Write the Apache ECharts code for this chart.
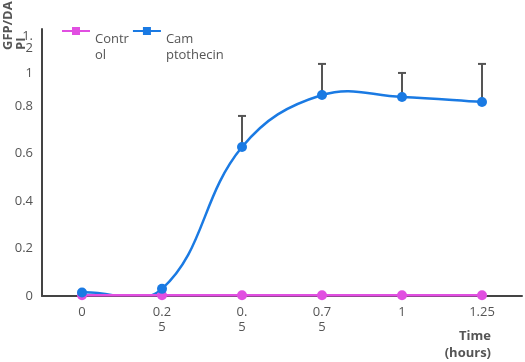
<!DOCTYPE html>
<html><head><meta charset="utf-8">
<script src="https://cdn.jsdelivr.net/npm/echarts@6/dist/echarts.min.js"></script>
<style>html,body{margin:0;padding:0;background:#fff}#c{width:525px;height:362px}</style>
</head><body><div id="c"></div>
<script>
const categories = ['0', '0.25', '0.5', '0.75', '1', '1.25'];
const xTickLabels = ['0', '0.2\n5', '0.\n5', '0.7\n5', '1', '1.25'];
const controlValues = [0.003, 0.003, 0.003, 0.003, 0.003, 0.003];
const camptoValues = [0.015, 0.03, 0.627, 0.846, 0.838, 0.817];
const camptoErrUp = [null, null, 0.131, 0.131, 0.101, 0.160];
const yTickValues = [0, 0.2, 0.4, 0.6, 0.8, 1];
const yTickLabels = ['0', '0.2', '0.4', '0.6', '0.8', '1'];
const yTopLabel = '1.\n2';
const seriesNames = ['Control', 'Camptothecin'];
const legendLabels = {'Control': 'Contr\nol', 'Camptothecin': 'Cam\nptothecin'};
const yMax = 1.124;

const FONT = 'Open Sans';
const C_CTRL = '#e14fe1';
const C_CAMP = '#1a7ae3';
const TENSION = 0.4;

function splineSeg(params, api) {
  const n = params.dataInsideLength;
  const i = params.dataIndexInside;
  if (i >= n - 1) return null;
  const pt = k => {
    k = Math.max(0, Math.min(n - 1, k));
    return api.coord([api.value(0, k), api.value(1, k)]);
  };
  const ctrl = (prev, cur, next) => {
    const d01 = Math.hypot(cur[0] - prev[0], cur[1] - prev[1]);
    const d12 = Math.hypot(next[0] - cur[0], next[1] - cur[1]);
    let s01 = d01 / (d01 + d12), s12 = d12 / (d01 + d12);
    s01 = isNaN(s01) ? 0 : s01; s12 = isNaN(s12) ? 0 : s12;
    const fa = TENSION * s01, fb = TENSION * s12;
    return {
      prev: [cur[0] - fa * (next[0] - prev[0]), cur[1] - fa * (next[1] - prev[1])],
      next: [cur[0] + fb * (next[0] - prev[0]), cur[1] + fb * (next[1] - prev[1])]
    };
  };
  const a = pt(i), b = pt(i + 1);
  const ca = ctrl(pt(i - 1), a, pt(i + 1));
  const cb = ctrl(a, b, pt(i + 2));
  return {
    type: 'bezierCurve',
    shape: {x1: a[0], y1: a[1], x2: b[0], y2: b[1], cpx1: ca.next[0], cpy1: ca.next[1], cpx2: cb.prev[0], cpy2: cb.prev[1]},
    style: {stroke: C_CAMP, lineWidth: 2.5, fill: null}
  };
}

const yLabelStyle = {color: '#555', fontSize: 13, fontFamily: FONT, lineHeight: 12};

const chart = echarts.init(document.getElementById('c'), null, {renderer: 'canvas'});
chart.setOption({
  animation: false,
  backgroundColor: '#fff',
  textStyle: {fontFamily: FONT},
  grid: {left: 42, right: 3, top: 29, bottom: 66, containLabel: false, outerBoundsMode: 'none'},
  legend: {
    data: seriesNames,
    left: 61, top: -1, padding: 0,
    itemWidth: 28, itemHeight: 10, itemGap: 3,
    formatter: n => '\n\n' + legendLabels[n],
    textStyle: {color: '#555', fontSize: 13, fontFamily: FONT, lineHeight: 16}
  },
  xAxis: {
    type: 'category', data: categories, boundaryGap: true,
    axisLine: {lineStyle: {color: '#444', width: 2}},
    axisTick: {show: false},
    axisLabel: {
      interval: 0, margin: 9, color: '#555', fontSize: 13, lineHeight: 15, fontFamily: FONT,
      formatter: (v, i) => xTickLabels[i]
    }
  },
  yAxis: [{
    type: 'value', min: 0, max: yMax, interval: 0.2,
    axisLine: {show: true, lineStyle: {color: '#444', width: 2}},
    axisTick: {show: false},
    splitLine: {show: false},
    axisLabel: Object.assign({}, yLabelStyle, {
      margin: 9, showMaxLabel: false,
      formatter: v => {
        const i = yTickValues.findIndex(t => Math.abs(t - v) < 1e-6);
        if (i === 5) return '{s|' + yTickLabels[i] + '}';
        if (i >= 0) return yTickLabels[i];
        return '';
      },
      rich: {s: Object.assign({}, yLabelStyle, {padding: [29, 0, 0, 0]})}
    })
  }, {
    type: 'value', position: 'left', min: 0, max: yMax, interval: 0.2,
    axisLine: {show: false}, axisTick: {show: false}, splitLine: {show: false},
    axisLabel: Object.assign({}, yLabelStyle, {
      margin: 9, showMaxLabel: true, showMinLabel: false,
      formatter: v => (Math.abs(v - yMax) < 1e-6 ? '{s|' + yTopLabel + '}' : ''),
      rich: {s: Object.assign({}, yLabelStyle, {padding: [26, 0, 0, 0]})}
    })
  }],
  graphic: [{
    type: 'text', x: 2, y: 50, rotation: Math.PI / 2,
    style: {text: 'GFP/DA\nPI', font: 'bold 13px "Open Sans"', fill: '#555',
      textAlign: 'left', textVerticalAlign: 'top', lineHeight: 13}
  }, {
    type: 'text', x: 491, y: 328,
    style: {text: 'Time\n(hours)', font: 'bold 13px "Open Sans"', fill: '#555',
      textAlign: 'right', textVerticalAlign: 'top', lineHeight: 17}
  }],
  series: [
    {name: 'Control', type: 'line', data: [], color: C_CTRL, symbol: 'rect',
      lineStyle: {width: 2.5, color: C_CTRL}, itemStyle: {color: C_CTRL}},
    {name: 'Camptothecin', type: 'line', data: [], color: C_CAMP, symbol: 'rect',
      lineStyle: {width: 2.5, color: C_CAMP}, itemStyle: {color: C_CAMP}},
    {
      name: 'Control', type: 'line', data: controlValues,
      color: C_CTRL, symbol: 'circle', symbolSize: 10,
      lineStyle: {width: 2.5, color: C_CTRL}, itemStyle: {color: C_CTRL}, z: 3
    },
    {
      name: 'CamptoErr', type: 'custom', z: 2,
      data: camptoValues.map((v, i) => [i, v, camptoErrUp[i]]),
      renderItem: (params, api) => {
        const e = api.value(2);
        if (e === null || e === undefined || isNaN(e)) return null;
        const p0 = api.coord([api.value(0), api.value(1)]);
        const p1 = api.coord([api.value(0), api.value(1) + e]);
        const hw = 4;
        return {type: 'group', children: [
          {type: 'line', shape: {x1: p0[0], y1: p0[1], x2: p1[0], y2: p1[1]}, style: {stroke: '#555', lineWidth: 2}},
          {type: 'line', shape: {x1: p1[0] - hw, y1: p1[1], x2: p1[0] + hw, y2: p1[1]}, style: {stroke: '#555', lineWidth: 2}}
        ]};
      }
    },
    {
      name: 'Camptothecin', type: 'custom', z: 2, clip: true,
      data: camptoValues.map((v, i) => [i, v]),
      renderItem: splineSeg
    },
    {
      name: 'Camptothecin', type: 'scatter', data: camptoValues.map((v, i) => [i, v]),
      color: C_CAMP, symbol: 'circle', symbolSize: 10, itemStyle: {color: C_CAMP, opacity: 1}, z: 5
    }
  ]
});
</script></body></html>
